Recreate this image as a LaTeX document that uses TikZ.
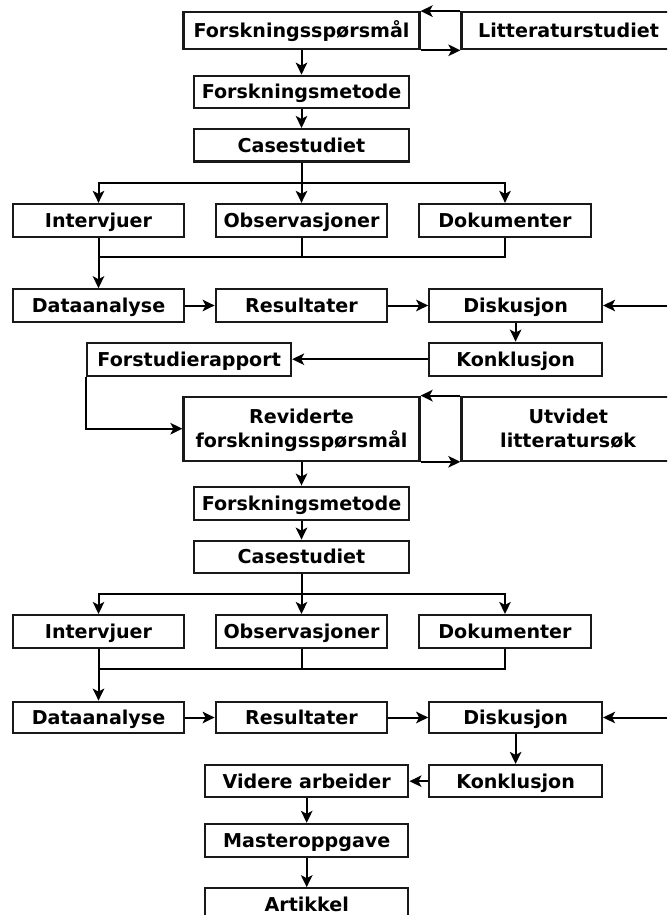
\documentclass[tikz,border=0pt]{standalone}
\usepackage{fontspec}
\setmainfont{DejaVu Sans}
\usetikzlibrary{arrows.meta}
\begin{document}
\begin{tikzpicture}[x=1pt,y=-1pt,
  box/.style={draw=black!90, line width=2.2pt, fill=white, inner sep=0pt,
    font=\fontsize{19.1}{23.5}\selectfont\bfseries, align=center, text=black,
    text height=13.9pt, text depth=0pt},
  twoline/.style={text height=37.4pt, text depth=0pt},
  conn/.style={draw=black, line width=2pt},
  arr/.style={conn, -{Stealth[length=12pt,width=11.5pt,inset=3pt]}}]
\useasboundingbox (0,0) rectangle (667,915);
\clip (0,0) rectangle (667,915);
\fill[white] (0,0) rectangle (667,915);

% row 1
\node[box, minimum width=236pt, minimum height=37pt] (F1) at (301.5,30.7) {Forskningsspørsmål};
\node[box, minimum width=214pt, minimum height=37pt] (L1) at (568.5,30.7) {Litteraturstudiet};
\node[box, minimum width=215pt, minimum height=32.5pt] (FM1) at (301.5,92) {Forskningsmetode};
\node[box, minimum width=215pt, minimum height=32.5pt] (CS1) at (301.5,145.3) {Casestudiet};
\node[box, minimum width=171pt, minimum height=32.7pt] (IV1) at (98.5,220.3) {Intervjuer};
\node[box, minimum width=171.6pt, minimum height=32.7pt] (OB1) at (301.5,220.3) {Observasjoner};
\node[box, minimum width=172pt, minimum height=32.7pt] (DK1) at (505,220.3) {Dokumenter};
\node[box, minimum width=171pt, minimum height=32.4pt] (DA1) at (98.5,305.5) {Dataanalyse};
\node[box, minimum width=171.6pt, minimum height=32.4pt] (RS1) at (301.5,305.5) {Resultater};
\node[box, minimum width=172.7pt, minimum height=32.4pt] (DI1) at (515.6,305.5) {Diskusjon};
\node[box, minimum width=203.7pt, minimum height=33pt] (FR) at (189.2,359.2) {Forstudierapport};
\node[box, minimum width=172.7pt, minimum height=33pt] (KO1) at (515.6,359.2) {Konklusjon};
\node[box, twoline, minimum width=236pt, minimum height=64pt] (RV) at (301.5,428.7) {Reviderte\\forskningsspørsmål};
\node[box, twoline, minimum width=213.5pt, minimum height=64pt] (UT) at (568.2,428.7) {Utvidet\\litteratursøk};
\node[box, minimum width=215pt, minimum height=33.3pt] (FM2) at (301.5,503.3) {Forskningsmetode};
\node[box, minimum width=215pt, minimum height=32.6pt] (CS2) at (301.5,557) {Casestudiet};
\node[box, minimum width=171pt, minimum height=33.3pt] (IV2) at (98.5,631.7) {Intervjuer};
\node[box, minimum width=171.6pt, minimum height=33.3pt] (OB2) at (301.5,631.7) {Observasjoner};
\node[box, minimum width=172pt, minimum height=33.3pt] (DK2) at (505,631.7) {Dokumenter};
\node[box, minimum width=171pt, minimum height=31.6pt] (DA2) at (98.5,717.5) {Dataanalyse};
\node[box, minimum width=171.6pt, minimum height=31.6pt] (RS2) at (301.5,717.5) {Resultater};
\node[box, minimum width=172.7pt, minimum height=31.6pt] (DI2) at (515.6,717.5) {Diskusjon};
\node[box, minimum width=172.7pt, minimum height=32.3pt] (KO2) at (515.6,781.2) {Konklusjon};
\node[box, minimum width=203.3pt, minimum height=32.3pt] (VA) at (306.7,781.2) {Videre arbeider};
\node[box, minimum width=203.3pt, minimum height=32.7pt] (MO) at (306.7,840.3) {Masteroppgave};
\node[box, minimum width=203.3pt, minimum height=32pt] (AR) at (306.7,904.3) {Artikkel};

% helper coordinates
\coordinate (b1) at (301.5,182.7);
\coordinate (m1) at (98.5,257.3);
\coordinate (e1) at (667,305.5);
\coordinate (b2) at (301.5,594.3);
\coordinate (m2) at (98.5,669);
\coordinate (e2) at (667,717.5);

% connectors part 1
\draw[arr] (L1.north west) -- (F1.north east);
\draw[arr] (F1.south east) -- (L1.south west);
\draw[arr] (F1.south) -- (FM1.north);
\draw[arr] (FM1.south) -- (CS1.north);
\draw[conn] (CS1.south) -- (b1);
\draw[arr] (b1) -| (IV1.north);
\draw[arr] (b1) -- (OB1.north);
\draw[arr] (b1) -| (DK1.north);
\draw[conn] (OB1.south) |- (m1);
\draw[conn] (DK1.south) |- (m1);
\draw[arr] (IV1.south) -- (DA1.north);
\draw[arr] (DA1.east) -- (RS1.west);
\draw[arr] (RS1.east) -- (DI1.west);
\draw[arr] (e1) -- (DI1.east);
\draw[arr] (DI1.south) -- (KO1.north);
\draw[arr] (KO1.west) -- (FR.east);
\draw[arr] (FR.south west) |- (RV.west);
\draw[arr] (UT.north west) -- (RV.north east);
\draw[arr] (RV.south east) -- (UT.south west);

% connectors part 2
\draw[arr] (RV.south) -- (FM2.north);
\draw[arr] (FM2.south) -- (CS2.north);
\draw[conn] (CS2.south) -- (b2);
\draw[arr] (b2) -| (IV2.north);
\draw[arr] (b2) -- (OB2.north);
\draw[arr] (b2) -| (DK2.north);
\draw[conn] (OB2.south) |- (m2);
\draw[conn] (DK2.south) |- (m2);
\draw[arr] (IV2.south) -- (DA2.north);
\draw[arr] (DA2.east) -- (RS2.west);
\draw[arr] (RS2.east) -- (DI2.west);
\draw[arr] (e2) -- (DI2.east);
\draw[arr] (DI2.south) -- (KO2.north);
\draw[arr] (KO2.west) -- (VA.east);
\draw[arr] (VA.south) -- (MO.north);
\draw[arr] (MO.south) -- (AR.north);
\end{tikzpicture}
\end{document}
